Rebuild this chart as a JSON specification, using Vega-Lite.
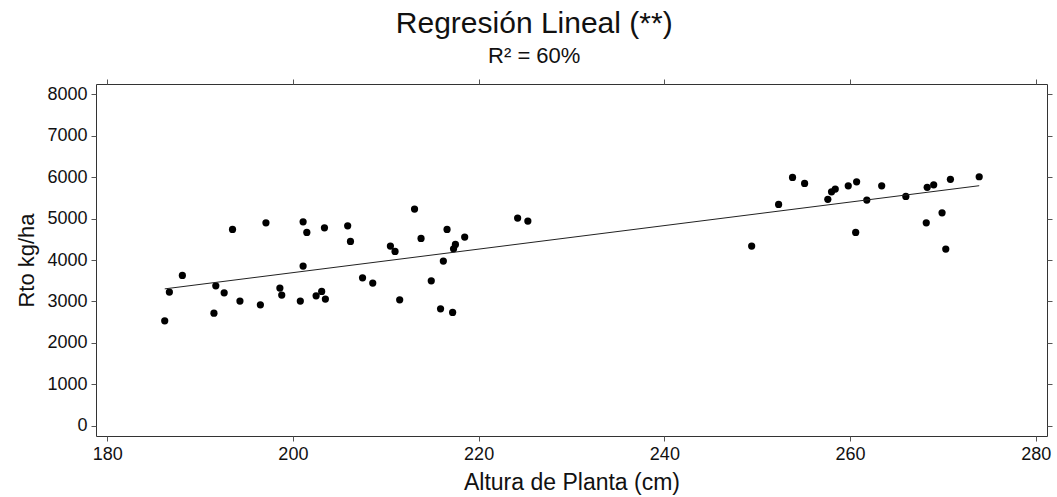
{
  "$schema": "https://vega.github.io/schema/vega-lite/v6.json",
  "autosize": "none",
  "width": 951,
  "height": 352,
  "padding": {"left": 96, "top": 84, "right": 10, "bottom": 61},
  "background": "white",
  "config": {
    "font": "Liberation Sans",
    "view": {"stroke": "#333333", "strokeWidth": 1},
    "axis": {"grid": false, "domain": false, "tickColor": "#555555", "tickSize": 5, "labelColor": "#111111", "titleColor": "#111111", "labelFont": "Liberation Sans", "titleFont": "Liberation Sans", "labelFontSize": 18, "titleFontSize": 22, "titleFontWeight": "normal"}
  },
  "title": {
    "text": "Regresión Lineal (**)",
    "subtitle": "R² = 60%",
    "anchor": "middle",
    "frame": "bounds",
    "fontSize": 30,
    "fontWeight": "normal",
    "subtitleFontSize": 22,
    "subtitlePadding": 7,
    "color": "#111111",
    "subtitleColor": "#111111",
    "font": "Liberation Sans",
    "subtitleFont": "Liberation Sans",
    "offset": 12
  },
  "data": {"values": [
    {"altura": 186.2, "rto": 2531},
    {"altura": 186.7, "rto": 3225},
    {"altura": 188.1, "rto": 3628},
    {"altura": 193.5, "rto": 4739},
    {"altura": 197.1, "rto": 4899},
    {"altura": 191.5, "rto": 2717},
    {"altura": 191.7, "rto": 3377},
    {"altura": 192.6, "rto": 3208},
    {"altura": 194.3, "rto": 3007},
    {"altura": 196.5, "rto": 2918},
    {"altura": 198.6, "rto": 3321},
    {"altura": 198.8, "rto": 3152},
    {"altura": 200.8, "rto": 3007},
    {"altura": 201.1, "rto": 4923},
    {"altura": 201.5, "rto": 4666},
    {"altura": 203.4, "rto": 4778},
    {"altura": 205.9, "rto": 4826},
    {"altura": 206.2, "rto": 4449},
    {"altura": 213.1, "rto": 5229},
    {"altura": 213.8, "rto": 4522},
    {"altura": 210.5, "rto": 4336},
    {"altura": 211.0, "rto": 4208},
    {"altura": 201.1, "rto": 3853},
    {"altura": 202.5, "rto": 3135},
    {"altura": 203.1, "rto": 3241},
    {"altura": 203.5, "rto": 3056},
    {"altura": 207.5, "rto": 3570},
    {"altura": 208.6, "rto": 3442},
    {"altura": 211.5, "rto": 3039},
    {"altura": 214.9, "rto": 3498},
    {"altura": 215.9, "rto": 2821},
    {"altura": 216.2, "rto": 3974},
    {"altura": 216.6, "rto": 4739},
    {"altura": 218.5, "rto": 4553},
    {"altura": 217.5, "rto": 4377},
    {"altura": 217.3, "rto": 4271},
    {"altura": 217.2, "rto": 2734},
    {"altura": 224.2, "rto": 5012},
    {"altura": 225.3, "rto": 4940},
    {"altura": 249.4, "rto": 4336},
    {"altura": 252.3, "rto": 5343},
    {"altura": 253.8, "rto": 5995},
    {"altura": 255.1, "rto": 5850},
    {"altura": 257.6, "rto": 5464},
    {"altura": 258.0, "rto": 5647},
    {"altura": 258.4, "rto": 5713},
    {"altura": 259.8, "rto": 5792},
    {"altura": 260.7, "rto": 5889},
    {"altura": 260.6, "rto": 4667},
    {"altura": 261.8, "rto": 5447},
    {"altura": 263.4, "rto": 5792},
    {"altura": 266.0, "rto": 5536},
    {"altura": 268.3, "rto": 5754},
    {"altura": 269.0, "rto": 5816},
    {"altura": 270.8, "rto": 5947},
    {"altura": 273.9, "rto": 6010},
    {"altura": 269.9, "rto": 5140},
    {"altura": 268.2, "rto": 4899},
    {"altura": 270.3, "rto": 4263}
  ]},
  "resolve": {"axis": {"x": "independent", "y": "independent"}},
  "layer": [
    {
      "mark": {"type": "circle", "size": 52, "color": "#000000", "opacity": 1},
      "encoding": {
        "x": {"field": "altura", "type": "quantitative", "scale": {"domain": [178.8, 281.2], "nice": false, "zero": false},
              "axis": {"orient": "bottom", "title": "Altura de Planta (cm)", "titleFontSize": 23, "values": [180, 200, 220, 240, 260, 280], "labelPadding": 4, "titlePadding": 8}},
        "y": {"field": "rto", "type": "quantitative", "scale": {"domain": [-250, 8250], "nice": false, "zero": false},
              "axis": {"orient": "left", "title": "Rto kg/ha", "format": "d", "values": [0, 1000, 2000, 3000, 4000, 5000, 6000, 7000, 8000], "labelPadding": 4, "titlePadding": 8}}
      }
    },
    {
      "transform": [{"regression": "rto", "on": "altura"}],
      "mark": {"type": "line", "color": "#222222", "strokeWidth": 1},
      "encoding": {
        "x": {"field": "altura", "type": "quantitative", "axis": {"orient": "top", "labels": false, "title": null, "values": [180, 200, 220, 240, 260, 280]}},
        "y": {"field": "rto", "type": "quantitative", "axis": {"orient": "right", "labels": false, "title": null, "values": [0, 1000, 2000, 3000, 4000, 5000, 6000, 7000, 8000]}}
      }
    }
  ]
}
